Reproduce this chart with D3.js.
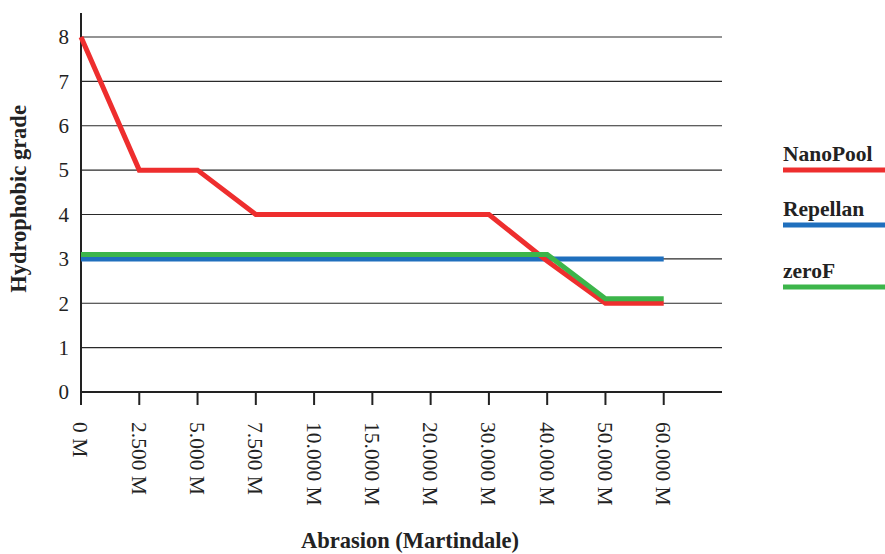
<!DOCTYPE html>
<html>
<head>
<meta charset="utf-8">
<script src="https://cdn.jsdelivr.net/npm/d3@7"></script>
<style>
  body { margin: 0; background: #fff; }
  text { font-family: "Liberation Serif", "Times New Roman", serif; }
</style>
</head>
<body>
<div id="chart"></div>
<script>
// abrasion cycles (categorical axis)
const categories = ["0 M", "2.500 M", "5.000 M", "7.500 M", "10.000 M", "15.000 M",
  "20.000 M", "30.000 M", "40.000 M", "50.000 M", "60.000 M"];
const nanoPool = [8, 5, 5, 4, 4, 4, 4, 4, 2.95, 2, 2];
const repellan = [3, 3, 3, 3, 3, 3, 3, 3, 3, 3, 3];
const zeroF = [3.1, 3.1, 3.1, 3.1, 3.1, 3.1, 3.1, 3.1, 3.1, 2.1, 2.1];
const yTicks = [0, 1, 2, 3, 4, 5, 6, 7, 8];

const series = [
  { name: "NanoPool", values: nanoPool, color: "#ee2e2e" },
  { name: "Repellan", values: repellan, color: "#1f6fbd" },
  { name: "zeroF", values: zeroF, color: "#3cb54a" }
];

const width = 885, height = 554;
const margin = { left: 81, right: 722, top: 37, bottom: 392 };

const svg = d3.select("#chart").append("svg")
  .attr("width", width)
  .attr("height", height);

// one empty slot after the last category, like the original
const step = (margin.right - margin.left) / categories.length;
const x = d3.scalePoint()
  .domain(categories)
  .range([margin.left, margin.right - step]);

const y = d3.scaleLinear()
  .domain([0, 8])
  .range([margin.bottom, margin.top]);

// grid lines
svg.append("g")
  .selectAll("line")
  .data(yTicks.filter(d => d > 0))
  .join("line")
  .attr("x1", margin.left).attr("x2", margin.right)
  .attr("y1", d => y(d)).attr("y2", d => y(d))
  .attr("stroke", "#2a2a2a").attr("stroke-width", 1.1);

// y axis
svg.append("line")
  .attr("x1", margin.left).attr("x2", margin.left)
  .attr("y1", 13).attr("y2", margin.bottom)
  .attr("stroke", "#222").attr("stroke-width", 2);

svg.append("g")
  .selectAll("text")
  .data(yTicks)
  .join("text")
  .attr("x", 69)
  .attr("y", d => y(d))
  .attr("dy", "0.35em")
  .attr("text-anchor", "end")
  .attr("font-size", 21)
  .attr("fill", "#222")
  .text(d => d);

// x axis
svg.append("line")
  .attr("x1", margin.left - 1).attr("x2", margin.right)
  .attr("y1", margin.bottom).attr("y2", margin.bottom)
  .attr("stroke", "#222").attr("stroke-width", 2);

const xt = svg.append("g")
  .selectAll("g")
  .data(categories)
  .join("g")
  .attr("transform", d => `translate(${x(d)},${margin.bottom})`);

xt.append("line")
  .attr("y1", 0).attr("y2", 13)
  .attr("stroke", "#222").attr("stroke-width", 2);

xt.append("text")
  .attr("transform", "translate(0,30) rotate(90)")
  .attr("dy", "0.35em")
  .attr("text-anchor", "start")
  .attr("font-size", 21.5)
  .attr("fill", "#222")
  .text(d => d);

// lines
const line = d3.line()
  .x((d, i) => x(categories[i]))
  .y(d => y(d));

const drawOrder = [series[1], series[0], series[2]];
svg.append("g")
  .selectAll("path")
  .data(drawOrder)
  .join("path")
  .attr("fill", "none")
  .attr("stroke", d => d.color)
  .attr("stroke-width", 5)
  .attr("stroke-linejoin", "miter")
  .attr("d", d => line(d.values));

// legend
const legendY = [161, 216, 278];
const lg = svg.append("g")
  .selectAll("g")
  .data(series)
  .join("g")
  .attr("transform", (d, i) => `translate(783,${legendY[i]})`);

lg.append("text")
  .attr("font-size", 21.5)
  .attr("font-weight", "bold")
  .attr("fill", "#222")
  .text(d => d.name);

lg.append("line")
  .attr("x1", 0).attr("x2", 110)
  .attr("y1", 9).attr("y2", 9)
  .attr("stroke", d => d.color)
  .attr("stroke-width", 5);

// axis titles
svg.append("text")
  .attr("transform", "translate(26,199) rotate(-90)")
  .attr("text-anchor", "middle")
  .attr("font-size", 22.5)
  .attr("font-weight", "bold")
  .attr("fill", "#222")
  .text("Hydrophobic grade");

svg.append("text")
  .attr("x", 410)
  .attr("y", 548)
  .attr("text-anchor", "middle")
  .attr("font-size", 22.5)
  .attr("font-weight", "bold")
  .attr("fill", "#222")
  .text("Abrasion (Martindale)");
</script>
</body>
</html>
